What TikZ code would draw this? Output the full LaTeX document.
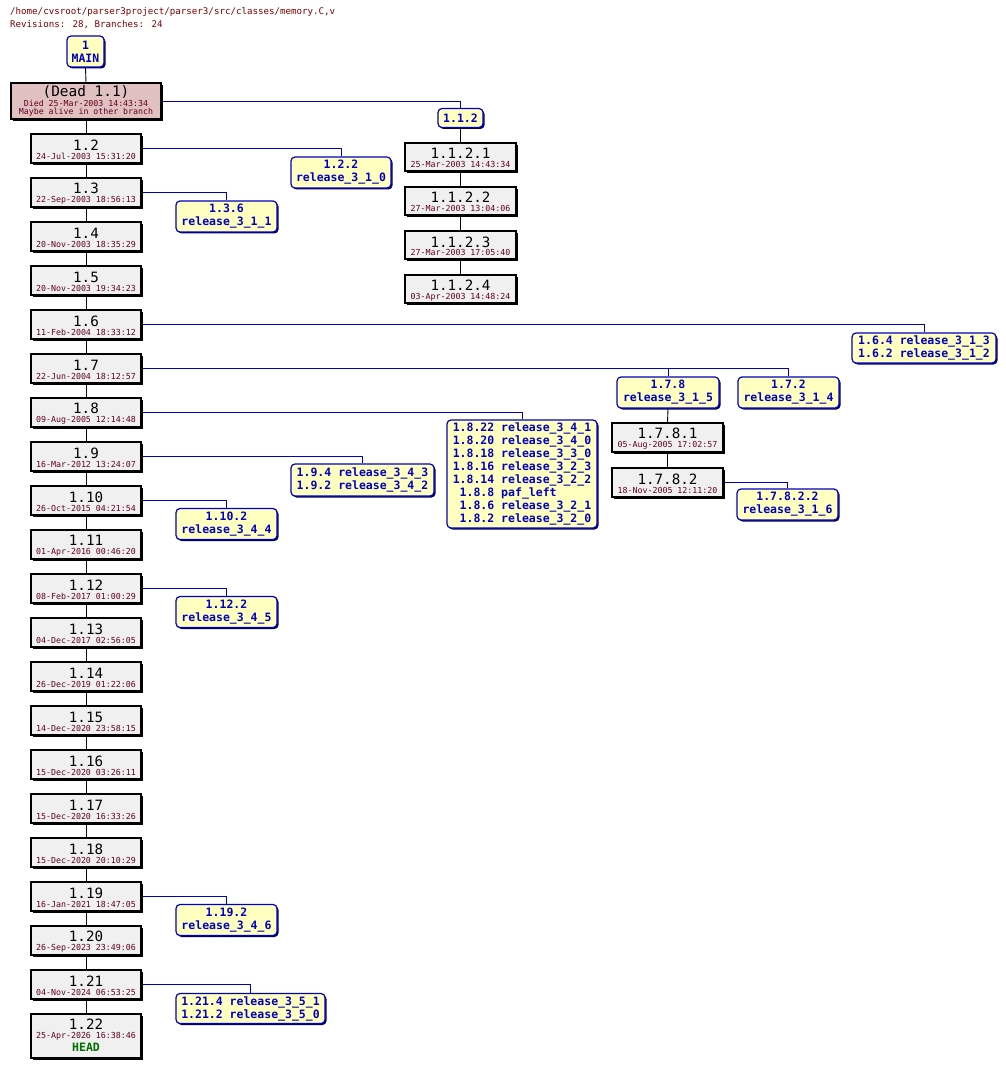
\documentclass[tikz,border=0pt]{standalone}
\usepackage{fontspec}
\setmainfont{DejaVu Sans Mono}
\usetikzlibrary{shadows,backgrounds}
\definecolor{revfill}{HTML}{F0F0F0}
\definecolor{deadfill}{HTML}{E0C0C0}
\definecolor{brfill}{HTML}{FFFFC0}
\definecolor{brblue}{HTML}{0000C0}
\definecolor{datec}{HTML}{600020}
\definecolor{titlec}{HTML}{800000}
\definecolor{headc}{HTML}{007000}
\newcommand\rvn[1]{{\fontsize{14.2}{14.2}\selectfont #1}}
\newcommand\rvd[1]{{\fontsize{8.3}{8.3}\selectfont\color{datec}#1}}
\newcommand\rvline[2]{\hbox to 0pt{\hss\vrule width 0pt #1\relax#2\hss}}
% two-line revision: number baseline, date baseline below
\newcommand\rv[2]{\vbox{\baselineskip=8.8pt\lineskiplimit=-100pt\lineskip=0pt
  \rvline{height 13.2pt depth 0pt}{\rvn{#1}}
  \rvline{height 0pt depth 0.4pt}{\rvd{#2}}}}
\newcommand\rvhead[2]{\vbox{\baselineskip=8.8pt\lineskiplimit=-100pt\lineskip=0pt
  \rvline{height 10.5pt depth 0pt}{\rvn{#1}}
  \rvline{height 0pt depth 0pt}{\rvd{#2}}
  \baselineskip=12.5pt
  \rvline{height 0pt depth 1.8pt}{{\fontsize{11.5}{11.5}\selectfont\bfseries\color{headc}HEAD}}}}
\newcommand\rvdead{\vbox{\lineskiplimit=-100pt\lineskip=0pt
  \baselineskip=10pt
  \rvline{height 10pt depth 0pt}{{\fontsize{14.4}{14.4}\selectfont (Dead 1.1)}}
  \baselineskip=10.3pt
  \rvline{height 0pt depth 0pt}{{\fontsize{8.25}{8.25}\selectfont\color{datec}Died 25-Mar-2003 14:43:34}}
  \baselineskip=8.3pt
  \rvline{height 0pt depth 2pt}{{\fontsize{8.25}{8.25}\selectfont\color{datec}Maybe alive in other branch}}}}
\tikzset{
  rev/.style={draw=black, line width=1.2pt, fill=revfill, minimum width=110pt,
    minimum height=29pt, inner sep=0pt,
    drop shadow={shadow xshift=2pt,shadow yshift=-2pt,opacity=1,fill=black}},
  br/.style={draw=brblue, line width=1.2pt, fill=brfill, rounded corners=4pt,
    inner xsep=4pt, inner ysep=2pt, align=center, text=brblue,
    font=\fontsize{11.5}{13}\selectfont\bfseries, minimum height=31pt,
    drop shadow={shadow xshift=1.5pt,shadow yshift=-1.5pt,opacity=1,fill=brblue!45!black}},
  trunk/.style={draw=black, line width=0.9pt},
  brl/.style={draw=brblue, line width=0.9pt},
  ttl/.style={anchor=base west, inner sep=0pt, text=titlec, font=\fontsize{9.15}{11}\selectfont},
}
\begin{document}
\begin{tikzpicture}[x=1pt,y=-1pt]
\useasboundingbox (0,0) rectangle (1005,1067);
\node[ttl] (title) at (10,15) {/home/cvsroot/parser3project/parser3/src/classes/memory.C,v};
\node[ttl] (count) at (10,27.5) {Revisions: 28, Branches: 24};

% MAIN and dead
\node[br, minimum width=37pt, minimum height=31pt, inner xsep=2pt] (main) at (85.5,51.5) {1\\MAIN};
\node[rev, fill=deadfill, minimum width=150pt, minimum height=36pt] (r11) at (86,101) {\rvdead};

% trunk
\node[rev] (r12) at (86,148.5) {\rv{1.2}{24-Jul-2003 15:31:20}};
\node[rev] (r13) at (86,192.5) {\rv{1.3}{22-Sep-2003 18:56:13}};
\node[rev] (r14) at (86,236.5) {\rv{1.4}{20-Nov-2003 18:35:29}};
\node[rev] (r15) at (86,280.5) {\rv{1.5}{20-Nov-2003 19:34:23}};
\node[rev] (r16) at (86,324.5) {\rv{1.6}{11-Feb-2004 18:33:12}};
\node[rev] (r17) at (86,368.5) {\rv{1.7}{22-Jun-2004 18:12:57}};
\node[rev] (r18) at (86,412.5) {\rv{1.8}{09-Aug-2005 12:14:48}};
\node[rev] (r19) at (86,456.5) {\rv{1.9}{16-Mar-2012 13:24:07}};
\node[rev] (r110) at (86,500.5) {\rv{1.10}{26-Oct-2015 04:21:54}};
\node[rev] (r111) at (86,544.5) {\rv{1.11}{01-Apr-2016 00:46:20}};
\node[rev] (r112) at (86,588.5) {\rv{1.12}{08-Feb-2017 01:00:29}};
\node[rev] (r113) at (86,632.5) {\rv{1.13}{04-Dec-2017 02:56:05}};
\node[rev] (r114) at (86,676.5) {\rv{1.14}{26-Dec-2019 01:22:06}};
\node[rev] (r115) at (86,720.5) {\rv{1.15}{14-Dec-2020 23:58:15}};
\node[rev] (r116) at (86,764.5) {\rv{1.16}{15-Dec-2020 03:26:11}};
\node[rev] (r117) at (86,808.5) {\rv{1.17}{15-Dec-2020 16:33:26}};
\node[rev] (r118) at (86,852.5) {\rv{1.18}{15-Dec-2020 20:10:29}};
\node[rev] (r119) at (86,896.5) {\rv{1.19}{16-Jan-2021 18:47:05}};
\node[rev] (r120) at (86,940.5) {\rv{1.20}{26-Sep-2023 23:49:06}};
\node[rev] (r121) at (86,984.5) {\rv{1.21}{04-Nov-2024 06:53:25}};
\node[rev, minimum height=44pt] (r122) at (86,1036) {\rvhead{1.22}{25-Apr-2026 16:38:46}};

% branch 1.1.2
\node[br, minimum width=45pt, minimum height=19pt, inner ysep=1pt] (b112) at (460.5,118) {1.1.2};
\node[rev, minimum width=111pt, minimum height=28pt] (r1121) at (460.5,157) {\rv{1.1.2.1}{25-Mar-2003 14:43:34}};
\node[rev, minimum width=111pt, minimum height=28pt] (r1122) at (460.5,201) {\rv{1.1.2.2}{27-Mar-2003 13:04:06}};
\node[rev, minimum width=111pt, minimum height=28pt] (r1123) at (460.5,245) {\rv{1.1.2.3}{27-Mar-2003 17:05:40}};
\node[rev, minimum width=111pt, minimum height=28pt] (r1124) at (460.5,289) {\rv{1.1.2.4}{03-Apr-2003 14:48:24}};

% other branches
\node[br, minimum width=100pt] (b122) at (341,172.5) {1.2.2\\release\_3\_1\_0};
\node[br, minimum width=101pt] (b136) at (226.5,216.5) {1.3.6\\release\_3\_1\_1};
\node[br, minimum width=144pt, minimum height=30pt] (b16) at (924,348) {1.6.4 release\_3\_1\_3\\1.6.2 release\_3\_1\_2};
\node[br, minimum width=102pt] (b178) at (668,392.5) {1.7.8\\release\_3\_1\_5};
\node[br, minimum width=101pt] (b172) at (788.5,392.5) {1.7.2\\release\_3\_1\_4};
\node[rev, minimum width=111pt] (r1781) at (667.5,437.5) {\rv{1.7.8.1}{05-Aug-2005 17:02:57}};
\node[rev, minimum width=111pt] (r1782) at (667.5,482.5) {\rv{1.7.8.2}{18-Nov-2005 12:11:20}};
\node[br, minimum width=101pt] (b17822) at (787.5,504.5) {1.7.8.2.2\\release\_3\_1\_6};
\node[br, minimum width=150pt, minimum height=108pt, align=left] (b18) at (522,474)
  {1.8.22 release\_3\_4\_1\\1.8.20 release\_3\_4\_0\\1.8.18 release\_3\_3\_0\\1.8.16 release\_3\_2\_3\\1.8.14 release\_3\_2\_2\\\phantom{1}1.8.8 paf\_left\\\phantom{1}1.8.6 release\_3\_2\_1\\\phantom{1}1.8.2 release\_3\_2\_0};
\node[br, minimum width=143pt, minimum height=32pt] (b19) at (362.5,480) {1.9.4 release\_3\_4\_3\\1.9.2 release\_3\_4\_2};
\node[br, minimum width=101pt] (b110) at (226.5,524) {1.10.2\\release\_3\_4\_4};
\node[br, minimum width=101pt] (b112b) at (226.5,612) {1.12.2\\release\_3\_4\_5};
\node[br, minimum width=101pt] (b119) at (226.5,920) {1.19.2\\release\_3\_4\_6};
\node[br, minimum width=149pt, minimum height=30pt] (b121) at (250.5,1008.5) {1.21.4 release\_3\_5\_1\\1.21.2 release\_3\_5\_0};

\begin{pgfonlayer}{background}
\fill[white] (0,0) rectangle (1005,1067);
% trunk connectors
\draw[trunk] (main.south) -- (r11.north);
\draw[trunk] (r11.south) -- (r12.north);
\foreach \a/\b in {12/13,13/14,14/15,15/16,16/17,17/18,18/19,19/110,110/111,111/112,112/113,113/114,114/115,115/116,116/117,117/118,118/119,119/120,120/121,121/122}
  \draw[trunk] (r\a.south) -- (r\b.north);
\draw[trunk] (b112.south) -- (r1121.north);
\draw[trunk] (r1121.south) -- (r1122.north);
\draw[trunk] (r1122.south) -- (r1123.north);
\draw[trunk] (r1123.south) -- (r1124.north);
\draw[trunk] (b178.south) -- (r1781.north);
\draw[trunk] (r1781.south) -- (r1782.north);
% branch connectors
\draw[brl] (r11.east) -| (b112.north);
\draw[brl] (r12.east) -| (b122.north);
\draw[brl] (r13.east) -| (b136.north);
\draw[brl] (r16.east) -| (b16.north);
\draw[brl] (r17.east) -| (b172.north);
\draw[brl] (r17.east) -| (b178.north);
\draw[brl] (r18.east) -| (b18.north);
\draw[brl] (r19.east) -| (b19.north);
\draw[brl] (r110.east) -| (b110.north);
\draw[brl] (r112.east) -| (b112b.north);
\draw[brl] (r119.east) -| (b119.north);
\draw[brl] (r121.east) -| (b121.north);
\draw[brl] (r1782.east) -| (b17822.north);
\end{pgfonlayer}
\end{tikzpicture}
\end{document}
